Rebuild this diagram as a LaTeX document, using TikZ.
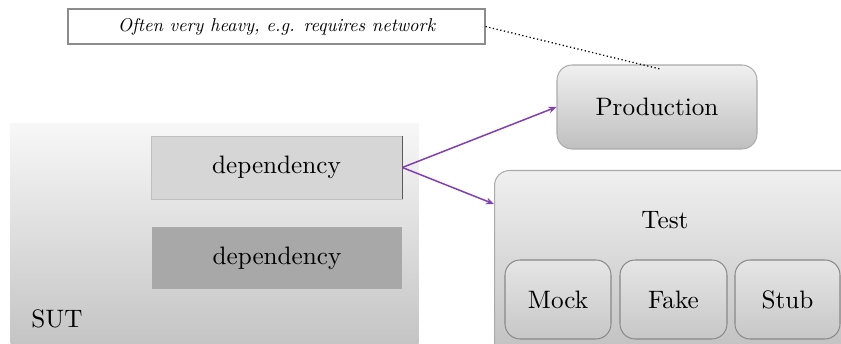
\documentclass[tikz,border=0pt]{standalone}
\usepackage{graphicx}
\usetikzlibrary{arrows.meta}
\definecolor{linkpurple}{RGB}{128,64,176}
\definecolor{boxline}{RGB}{170,170,170}
\definecolor{noteline}{RGB}{140,140,140}
\tikzset{
  rbox/.style={draw=boxline, line width=0.4pt, rounded corners=6pt,
    top color=black!6, bottom color=black!25, inner sep=0pt},
  childbox/.style={draw=boxline!80!black, line width=0.4pt, rounded corners=6pt,
    top color=black!10, bottom color=black!22, inner sep=0pt},
  depbox/.style={inner sep=0pt},
  link/.style={draw=linkpurple, line width=0.6pt, -{Stealth[length=3.2pt,width=2.6pt]}},
  notebox/.style={draw=noteline, line width=0.4pt, fill=white, inner sep=0pt,
    font=\itshape},
}
\begin{document}
\begin{tikzpicture}[x=0.3968pt, y=-0.3968pt]
\useasboundingbox (0,0) rectangle (841,344);
\clip (0,0) rectangle (841,344);

% system under test with its two dependencies
\node[top color=black!3, bottom color=black!23, minimum width=408*0.3968pt,
  minimum height=220*0.3968pt, inner sep=0pt, anchor=north west] (sut) at (10,123) {};
\node at (57,319) (sutlabel) {SUT};
\node[depbox, fill=black!16, draw=black!25, line width=0.3pt,
  minimum width=251*0.3968pt, minimum height=63*0.3968pt] (dep1) at (276.5,167.5) {dependency};
\draw[black!65, line width=0.5pt] (dep1.north east) -- (dep1.south east);
\node[depbox, fill=black!34, minimum width=250*0.3968pt, minimum height=62*0.3968pt]
  (dep2) at (277,258) {dependency};

% production implementation
\node[rbox, minimum width=200*0.3968pt, minimum height=84*0.3968pt] (prod) at (657,107) {Production};

% test doubles
\node[rbox, anchor=north west, minimum width=380*0.3968pt, minimum height=190*0.3968pt] (test) at (494,170) {};
\node at (665,220) (testlabel) {Test};
\node[childbox, minimum width=106*0.3968pt, minimum height=79*0.3968pt] (mock) at (558,299.5) {Mock};
\node[childbox, minimum width=107*0.3968pt, minimum height=79*0.3968pt] (fake) at (673.5,299.5) {Fake};
\node[childbox, minimum width=105*0.3968pt, minimum height=79*0.3968pt] (stub) at (787.5,299.5) {Stub};

% the dependency can be bound to either implementation
\coordinate (testin) at (494,204);
\draw[link] (dep1.east) -- (prod.west);
\draw[link] (dep1.east) -- (testin);

% remark on the production implementation
\node[notebox, minimum width=417*0.3968pt, minimum height=35*0.3968pt] (note) at (276.5,26.5)
  {\scalebox{0.735}{Often very heavy, e.g. requires network}};
\coordinate (prodpin) at (660,69);
\draw[black, line width=0.5pt, densely dotted] (note.east) -- (prodpin);
\end{tikzpicture}
\end{document}
